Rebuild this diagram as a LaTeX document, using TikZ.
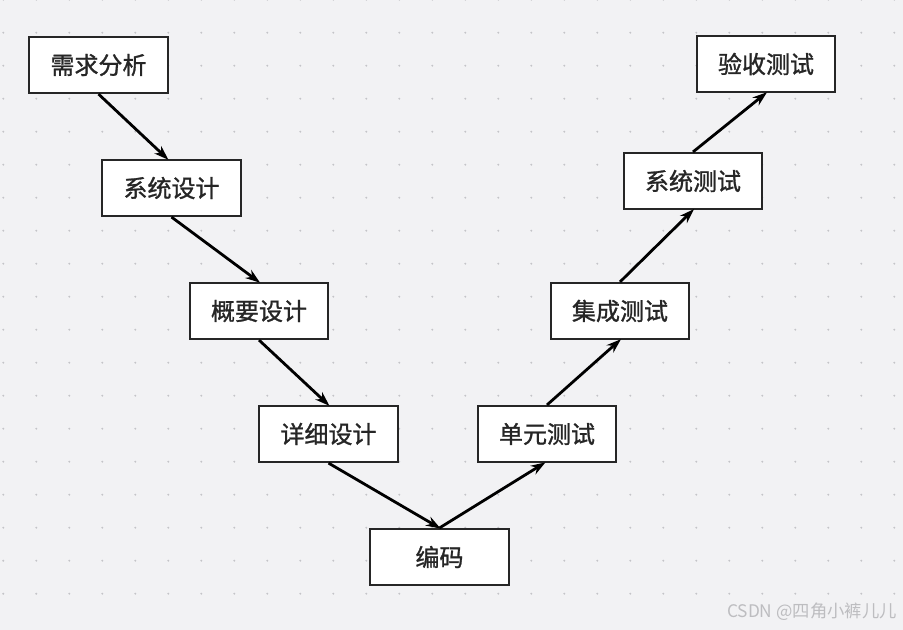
\documentclass[tikz,border=0pt]{standalone}
\usepackage{fontspec}
\setmainfont{Noto Sans CJK SC}
\newfontfamily\stagefont[FakeBold=1.2]{Noto Sans CJK SC}
\usetikzlibrary{arrows.meta}
\definecolor{paper}{HTML}{F2F2F4}
\definecolor{dotgray}{HTML}{C4C4C8}
\definecolor{inkgray}{HTML}{262626}
\definecolor{markgray}{HTML}{BDBDC0}
\tikzset{
  stagebox/.style={draw=inkgray, line width=1.6pt, fill=white, text=inkgray,
    minimum width=104pt, minimum height=42pt, inner sep=0pt,
    font=\stagefont\fontsize{18}{18}\selectfont},
  flow/.style={draw=black, line width=2.1pt, -{Stealth[length=11pt,width=7.5pt]}, shorten >=-1pt}
}
\begin{document}
\begin{tikzpicture}[x=0.75pt,y=-0.75pt]

\def\DOTCOLOR{dotgray}
	\fill[paper] (0,0) rectangle (903,630);
	\useasboundingbox (0,0) rectangle (903,630);
	\foreach \i in {0,...,27}
	  \foreach \j in {0,...,18}
	    \fill[\DOTCOLOR] (3.3+33*\i,-0.3+33*\j) circle (1.1);

	\node[stagebox] (req) at (98.5,65) {需求分析};
	\node[stagebox] (sysdes) at (171.5,188) {系统设计};
	\node[stagebox] (outline) at (259,311) {概要设计};
	\node[stagebox] (detail) at (328.5,434) {详细设计};
	\node[stagebox] (code) at (439.5,557) {编码};
	\node[stagebox] (unit) at (547,434) {单元测试};
	\node[stagebox] (integ) at (620,311) {集成测试};
	\node[stagebox] (systest) at (693,181) {系统测试};
	\node[stagebox] (accept) at (766,64) {验收测试};

	\draw[flow] (req.south) -- ([xshift=-3]sysdes.north);
	\draw[flow] (sysdes.south) -- (outline.north);
	\draw[flow] (outline.south) -- (detail.north);
	\draw[flow] (detail.south) -- (code.north);
	\draw[flow] (code.north) -- ([xshift=-2]unit.south);
	\draw[flow] (unit.north) -- (integ.south);
	\draw[flow] (integ.north) -- (systest.south);
	\draw[flow] (systest.north) -- (accept.south);

	\node[anchor=east, text=markgray, font=\fontsize{13}{13}\selectfont, inner sep=0pt] (mark) at (897,612) {CSDN @四角小裤儿儿};

\end{tikzpicture}
\end{document}
